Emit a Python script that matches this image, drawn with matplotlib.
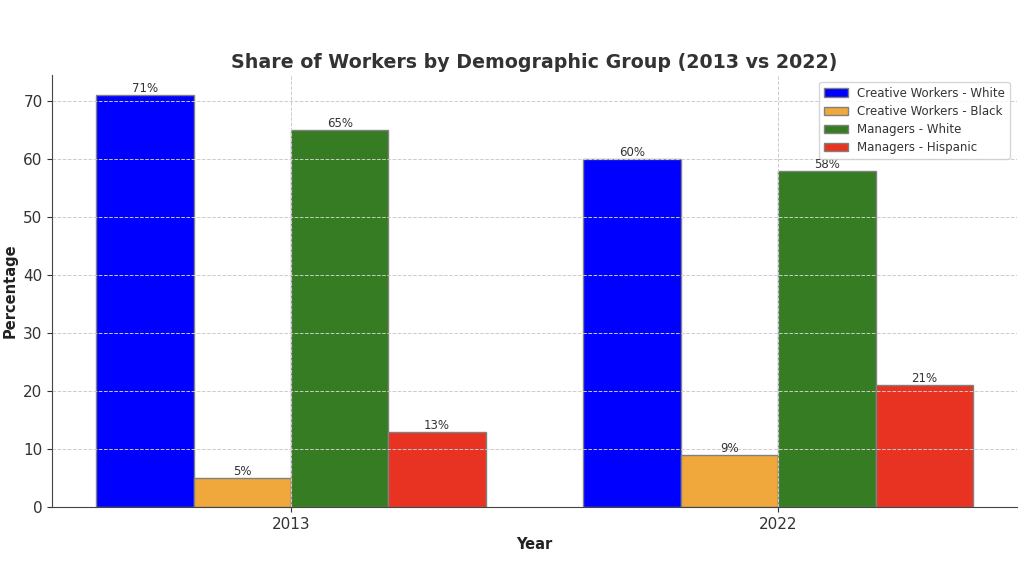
import numpy as np
import matplotlib.pyplot as plt

years = ['2013', '2022']
series = ['Creative Workers - White', 'Creative Workers - Black',
          'Managers - White', 'Managers - Hispanic']
creative_white = [71, 60]
creative_black = [5, 9]
managers_white = [65, 58]
managers_hispanic = [13, 21]
colors = ['#0000ff', '#f0a83c', '#367c22', '#e83323']

values = [creative_white, creative_black, managers_white, managers_hispanic]

fig, ax = plt.subplots(figsize=(10.24, 5.75), dpi=100)
fig.subplots_adjust(left=0.051, right=0.993, top=0.87, bottom=0.118)

x = np.arange(len(years))
width = 0.2
for i, (name, vals) in enumerate(zip(series, values)):
    bars = ax.bar(x + (i - 1.5) * width, vals, width, label=name,
                  color=colors[i], edgecolor='grey', linewidth=1)
    for b, v in zip(bars, vals):
        ax.text(b.get_x() + b.get_width() / 2, v, f'{v}%', ha='center',
                va='bottom', fontsize=8.5, color='#333333')

ax.set_xticks(x)
ax.set_xticklabels(years)
ax.set_xlabel('Year', fontsize=10.5, fontweight='bold', color='#222222')
ax.set_ylabel('Percentage', fontsize=10.5, fontweight='bold', color='#222222')
ax.set_title('Share of Workers by Demographic Group (2013 vs 2022)',
             fontsize=13.7, fontweight='bold', color='#333333', pad=5)
ax.tick_params(labelsize=11, colors='#333333')
ax.grid(True, linestyle='--', color='#cccccc', linewidth=0.7)
ax.spines['top'].set_visible(False)
ax.spines['right'].set_visible(False)
ax.spines['left'].set_color('#444444')
ax.spines['bottom'].set_color('#444444')
ax.legend(loc='upper right', fontsize=8.5, labelcolor='#333333',
          labelspacing=0.45, borderaxespad=0.6)

fig.savefig('out.png')
